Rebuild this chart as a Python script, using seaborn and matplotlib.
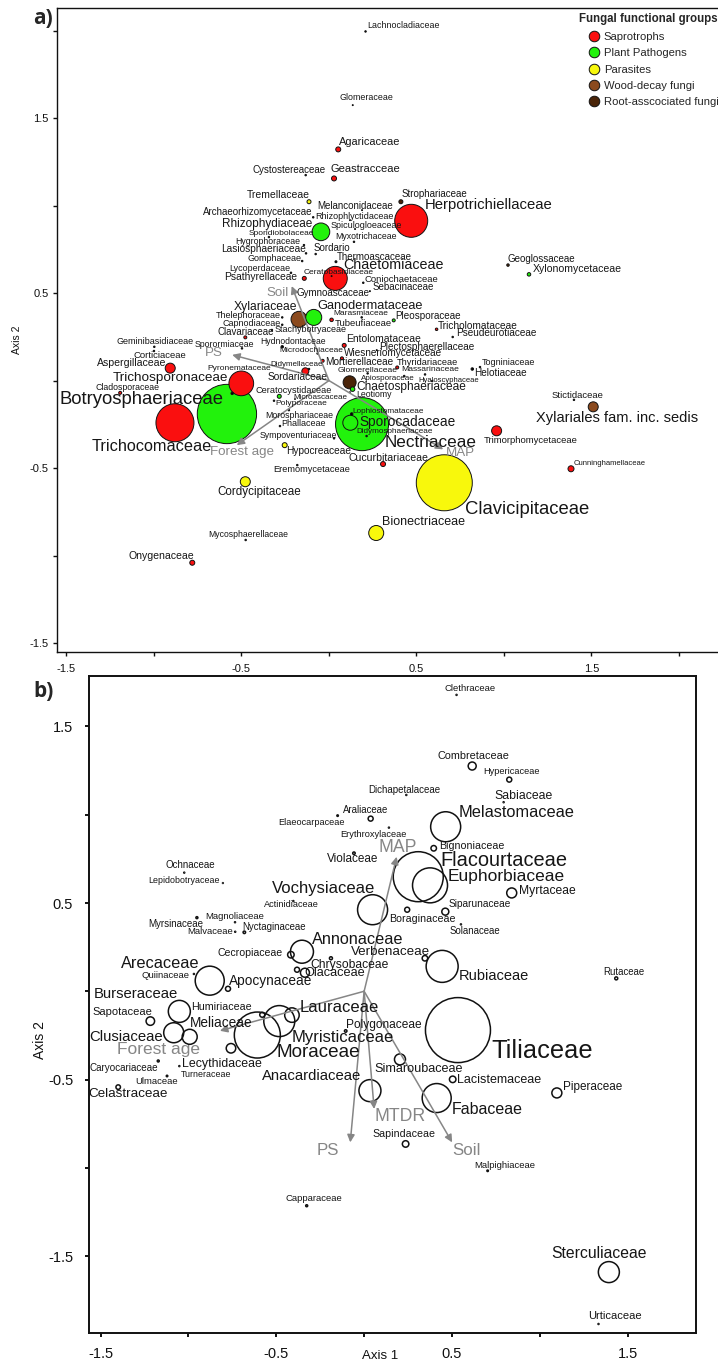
import pandas as pd
import matplotlib
matplotlib.use('Agg')
import matplotlib.pyplot as plt
from matplotlib.lines import Line2D
import seaborn as sns

# ---- panel a, fungi ----
a_names = ['Lachnocladiaceae', 'Glomeraceae', 'Agaricaceae', 'Cystostereaceae', 'Geastracceae', 'Tremellaceae',
           'Melanconidaceae', 'Archaeorhizomycetaceae', 'Rhizophlyctidaceae', 'Rhizophydiaceae', 'Spiculogloeaceae',
           'Sporidiobolaceae', 'Myxotrichaceae', 'Hygrophoraceae', 'Lasiosphaeriaceae', 'Sordario', 'Gomphaceae',
           'Thermoascaceae', 'Lycoperdaceae', 'Chaetomiaceae', 'Ceratobasidiaceae', 'Psathyrellaceae',
           'Coniochaetaceae', 'Sebacinaceae', 'Gymnoascaceae', 'Xylariaceae', 'Ganodermataceae', 'Thelephoraceae',
           'Capnodiaceae', 'Clavariaceae', 'Stachybotryaceae', 'Marasmiaceae', 'Tubeufiaceae', 'Pleosporaceae',
           'Tricholomataceae', 'Pseudeurotiaceae', 'Entolomataceae', 'Plectosphaerellaceae', 'Wiesneriomycetaceae',
           'Mortierellaceae', 'Thyridariaceae', 'Glomerellaceae', 'Massarinaceae', 'Togniniaceae', 'Helotiaceae',
           'Apiosporaceae', 'Hyaloscyphaceae', '', 'Chaetosphaeriaceae', 'Leotiomy', 'Nectriaceae', 'Sporocadaceae',
           'Lophiostomataceae', 'Didymosphaeriaceae', 'Cucurbitariaceae', 'Clavicipitaceae', 'Trimorphomycetaceae',
           'Stictidaceae', 'Xylariales fam. inc. sedis', 'Cunninghamellaceae', 'Strophariaceae', 'Herpotrichiellaceae',
           'Geoglossaceae', 'Xylonomycetaceae', 'Geminibasidiaceae', 'Sporormiaceae', 'Hydnodontaceae', 'Corticiaceae',
           'Microdochiaceae', 'Aspergillaceae', 'Trichosporonaceae', 'Cladosporaceae', 'Botryosphaeriaceae',
           'Trichocomaceae', 'Pyronemataceae', 'Didymellaceae', 'Sordariaceae', 'Ceratocystidaceae', 'Microascaceae',
           'Polyporaceae', 'Morosphariaceae', 'Phallaceae', 'Sympoventuriaceae', 'Hypocreaceae', 'Eremomycetaceae',
           'Cordycipitaceae', 'Mycosphaerellaceae', 'Onygenaceae', 'Bionectriaceae']
a_x = [0.209, 0.136, 0.053, -0.133, 0.029, -0.114, 0.189, -0.090, 0.12, -0.046, 0.149,
       -0.343, 0.143, -0.143, -0.131, -0.076, -0.153, 0.04, -0.217, 0.036, 0.015, -0.141,
       0.196, 0.234, -0.189, -0.171, -0.087, -0.267, -0.267, -0.478, -0.326, 0.187, 0.015, 0.370,
       0.615, 0.707, 0.087, 0.273, 0.074, -0.036, 0.390, 0.221, 0.549, 0.863, 0.819,
       0.430, 0.590, 0.118, 0.135, 0.12, 0.189, 0.122, 0.130, 0.215, 0.309, 0.659, 0.958,
       1.4, 1.510, 1.383, 0.411, 0.470, 1.023, 1.143, -0.998, -0.497, -0.267, -1.0,
       -0.065, -0.907, -0.501, -1.193, -0.583, -0.880, -0.553, -0.135, -0.114, -0.284, -0.194,
       -0.314, -0.229, -0.280, 0.029, -0.253, -0.181, -0.478, -0.476, -0.781, 0.270]
a_y = [1.995, 1.574, 1.321, 1.174, 1.155, 1.022, 0.974, 0.933, 0.917, 0.850, 0.866,
       0.820, 0.793, 0.774, 0.727, 0.723, 0.683, 0.679, 0.616, 0.584, 0.597, 0.584,
       0.559, 0.511, 0.506, 0.350, 0.361, 0.361, 0.319, 0.247, 0.289, 0.361, 0.347, 0.344,
       0.293, 0.249, 0.201, 0.174, 0.127, 0.113, 0.075, 0.041, 0.035, 0.077, 0.066,
       0.026, -0.003, -0.010, -0.049, -0.066, -0.249, -0.241, -0.191, -0.317, -0.477, -0.584, -0.287,
       -0.110, -0.150, -0.504, 1.022, 0.913, 0.660, 0.607, 0.193, 0.184, 0.193, 0.169,
       0.155, 0.071, -0.016, -0.070, -0.191, -0.241, -0.073, 0.053, 0.066, -0.090, -0.106,
       -0.115, -0.169, -0.260, -0.330, -0.369, -0.483, -0.578, -0.911, -1.041, -0.871]
# relative bubble diameter
a_abund = [1.5, 1, 5, 1.5, 5, 4, 1, 1.5, 1, 17.7, 1,
           1.5, 1.5, 1.5, 1.5, 1.5, 1.5, 2, 1.5, 24, 1, 4,
           1.5, 1, 0.8, 16, 16, 1.5, 1.5, 3, 1.5, 1.5, 3.5, 3,
           2.5, 1.5, 4, 1, 3, 3, 3, 1.5, 1.5, 1.5, 2.5,
           1.5, 1.5, 13, 4.5, 0.8, 53, 15, 2.5, 1.5, 5, 56, 10,
           1.5, 10, 6, 4, 33, 2.5, 3.5, 1.5, 1.5, 2.5, 1.5,
           1.5, 10, 24.7, 3, 59.3, 38, 2.5, 7, 1.5, 4, 0.8,
           1.5, 1.5, 1.5, 1.5, 5, 1.5, 10, 1.5, 5, 15]
a_group = ['O', 'O', 'S', 'O', 'S', 'Pa', 'O', 'O', 'O', 'P', 'O',
           'O', 'O', 'O', 'O', 'O', 'O', 'O', 'O', 'S', 'O', 'S',
           'O', 'O', 'O', 'W', 'P', 'O', 'O', 'S', 'O', 'O', 'S', 'P',
           'S', 'O', 'S', 'O', 'S', 'S', 'S', 'O', 'O', 'O', 'O',
           'O', 'O', 'R', 'P', 'O', 'P', 'P', 'O', 'O', 'S', 'Pa', 'S',
           'O', 'W', 'S', 'R', 'S', 'R', 'P', 'O', 'O', 'O', 'O',
           'O', 'S', 'S', 'S', 'P', 'S', 'O', 'S', 'O', 'P', 'O',
           'O', 'O', 'O', 'O', 'Pa', 'O', 'Pa', 'O', 'S', 'Pa']
a_dx = [1.4, -13.3, 0.7, -53, -4, -61.7, -45, -110.3, -34.3, -99.3, -24.3,
        -20, -19, -68.3, -84.7, -2, -54.6, 0.7, -61.7, 8, -27.7, -80.3,
        1.7, 2.3, 0.7, -65, 3.6, -66.3, -59.6, -27.6, 3, -28.4, 3.3, 2,
        1.6, 3, 2.4, 2.6, 2.3, 2.3, 0, -30.4, -23.3, 1.7, 1.7,
        -43.3, -13.6, 0, 4, 6, 22.3, 9, 1, -10, -34.3, 20.7, -12.4,
        -22.7, -57.6, 3, 0.7, 13.7, -0.3, 3.7, -38.3, -47, -21.6, -20.7,
        -38.7, -73.6, -128.6, -24.3, -167.7, -83, -24.6, -35.3, -41.3, -23.6, -1.7,
        1, -24, 1.7, -74.7, 1, -24, -28.3, -37, -64, 5.4]
a_dy = [5.6, 7.3, 7.6, 5, 9, 7, 4, 5, 4, 7.4, 4,
        3.7, 5, 3.3, 4, 5.7, 2.7, 5, 4.7, 13.3, 3.3, 1.6,
        3, 3.7, -1.3, 12.6, 11.3, 2, 1.7, 5.6, 0, 3.6, -4, 4,
        3.3, 3.7, 6, 3.3, 5, -1.6, 4.6, 3.3, 5, 4.3, -4,
        -2.7, 0.3, 0, 1.7, -2, -18.7, 1, 2, 5, 5.7, -26.3, -9.6,
        4.4, -11.6, 5, 7.4, 15.7, 5.7, 5, 5.7, 4.3, 5, -4.7,
        2.6, 5.3, 5, 5.4, 14, -23.3, 25, 6.3, -7.7, 6.3, 1.7,
        -3.3, -5, 2.7, 3.3, -6, -4.3, -10, 5.3, 6.7, 10.7]
a_fs = [6.4, 6.4, 7.9, 7, 8, 7.5, 7, 7, 6.5, 8.5, 6.5,
        6, 6.3, 6.3, 7.3, 7, 6.5, 7, 6.4, 10.3, 6, 7.4,
        6.8, 7, 7, 8.7, 9.2, 6.5, 6.5, 7, 6.5, 6, 6.8, 7.1,
        7.3, 7.2, 7.5, 7.2, 7.2, 7.2, 6.7, 6.1, 6.1, 6.5, 7.2,
        5.8, 5.5, 6, 8.6, 6.3, 12.3, 9.8, 5.9, 5.9, 7.6, 13.3, 6.8,
        6.8, 10.5, 5.5, 7, 10.7, 7, 7.6, 6.5, 6.3, 6.2, 6.8,
        6, 7.6, 9.7, 6.3, 13.3, 11.7, 6, 5.8, 7.3, 6.6, 5.8,
        6, 6.3, 6.5, 6.3, 7.3, 6.7, 8.4, 6.2, 7.6, 9]

a_arrows = ['PS', 'Forest age', 'Soil', 'MAP']
a_arrow_x = [-0.553, -0.527, -0.213, 0.653]
a_arrow_y = [0.147, -0.369, 0.540, -0.393]
a_arrow_dx = [-27.3, -26.7, -25, 2.4]
a_arrow_dy = [2, -6.7, -6.7, -4]

group_labels = ['Saprotrophs', 'Plant Pathogens', 'Parasites', 'Wood-decay fungi', 'Root-asscociated fungi']

# ---- panel b, trees ----
b_names = ['Clethraceae', 'Combretaceae', 'Hypericaceae', 'Sabiaceae', 'Dichapetalaceae', 'Araliaceae', 'Elaeocarpaceae',
           'Erythroxylaceae', 'Violaceae', 'Melastomaceae', 'Bignoniaceae', 'Flacourtaceae', 'Euphorbiaceae',
           'Myrtaceae', 'Siparunaceae', 'Vochysiaceae', 'Boraginaceae', 'Solanaceae', 'Actinidiaceae', 'Ochnaceae',
           'Lepidobotryaceae', 'Magnoliaceae', 'Myrsinaceae', 'Malvaceae', 'Nyctaginaceae', 'Cecropiaceae',
           'Annonaceae', 'Verbenaceae', 'Chrysobaceae', 'Olacaceae', '', 'Rubiaceae', 'Rutaceae', 'Arecaceae',
           'Quiinaceae', 'Apocynaceae', 'Burseraceae', 'Humiriaceae', 'Sapotaceae', 'Lauraceae', 'Myristicaceae',
           'Moraceae', 'Meliaceae', 'Clusiaceae', 'Lecythidaceae', 'Polygonaceae', 'Simaroubaceae', 'Tiliaceae',
           'Anacardiaceae', 'Lacistemaceae', 'Fabaceae', 'Piperaceae', 'Sapindaceae', 'Malpighiaceae', 'Capparaceae',
           'Sterculiaceae', 'Urticaceae', 'Caryocariaceae', 'Turneraceae', 'Ulmaceae', 'Celastraceae']
b_x = [0.526, 0.615, 0.826, 0.794, 0.240, 0.037, -0.151,
       0.141, -0.058, 0.464, 0.396, 0.308, 0.375,
       0.840, 0.462, 0.048, 0.245, 0.551, -0.403, -1.024,
       -0.804, -0.735, -0.952, -0.734, -0.682, -0.417,
       -0.354, 0.346, -0.189, -0.337, -0.382, 0.444, 1.435, -0.879,
       -0.969, -0.775, -1.052, -0.580, -1.217, -0.411, -0.483,
       -0.608, -0.993, -1.084, -0.758, -0.105, 0.204, 0.534,
       0.033, 0.504, 0.413, 1.097, 0.236, 0.703, -0.327,
       1.393, 1.334, -1.172, -1.052, -1.122, -1.400]
b_y = [1.679, 1.276, 1.199, 1.071, 1.112, 0.978, 0.995,
       0.927, 0.782, 0.932, 0.810, 0.649, 0.600,
       0.557, 0.451, 0.462, 0.462, 0.379, 0.511, 0.672,
       0.613, 0.391, 0.417, 0.337, 0.334, 0.207,
       0.224, 0.187, 0.187, 0.105, 0.122, 0.141, 0.073, 0.060,
       0.098, 0.014, -0.114, -0.133, -0.169, -0.135, -0.169,
       -0.248, -0.258, -0.235, -0.323, -0.225, -0.386, -0.220,
       -0.563, -0.499, -0.605, -0.576, -0.865, -1.017, -1.215,
       -1.591, -1.885, -0.395, -0.424, -0.480, -0.543]
b_abund = [1, 8, 5, 1, 1, 5, 1.5,
           1, 2.5, 30, 5.5, 50, 35,
           10, 7, 30, 5, 1, 1, 1,
           0.8, 1, 2, 1, 2.5, 6.5,
           23, 5.5, 3, 9, 5, 32, 3, 29,
           1, 5, 22, 5, 8.5, 14.5, 31,
           46, 15, 20, 9.5, 2.5, 11, 65,
           22, 6.5, 29, 10, 6.5, 1.5, 2,
           21, 1, 2, 1, 1.5, 4.5]
b_dx = [-11.7, -34.6, -25.6, -9.4, -37.6, -27.4, -59.4,
        -49, -26.7, 12.6, 5.6, 22.4, 17.7,
        7.6, 3.4, -101, -18, -11.7, -29.3, -18.3,
        -74.3, -29.7, -49, -47.6, -1.6, -73.7,
        9.7, -74, -21, -0.7, 0, 16.7, -13, -88.7,
        -52, 1, -86, -71.6, -58, 7.3, 12.4,
        19.4, 0.3, -84.4, -48.7, 0.3, -25.7, 33.7,
        -107.7, 4, 15, 5.7, -33.4, -13.4, -21,
        -58, -10, -69, 1.7, -31.3, -30]
b_dy = [6.7, 10, 7.7, 6.3, 5, 8.7, -7,
        -7, -6, 14, 2, 16.7, 8.6,
        2, 7.4, 21.4, -9.3, -6.4, -3.3, 8,
        2.3, 6, -6.3, 0, 5.6, 2,
        12.7, 6.6, -6.7, 0, 0, -10, 6.6, 17.4,
        -2, 8, 17, 8, 9.3, 7.7, -16.3,
        -17.7, 13.4, -4, -15.4, 6, -10, -20.7,
        14.7, -0.7, -11.3, 6.3, 9.7, 5, 7.7,
        19, 8.3, -7.3, -8.7, -5.7, -7]
b_fs = [6.8, 7.8, 6.7, 8.8, 7, 6.9, 6.6,
        6.7, 8.5, 11.8, 7.7, 14.4, 12.5,
        8.7, 7.3, 12, 7.7, 6.9, 6.6, 7,
        6.4, 6.8, 7, 6.8, 6.9, 7.6,
        11.7, 9.6, 8.7, 9.2, 6, 10.5, 6.9, 11.8,
        6.8, 9.8, 10.7, 7.7, 8, 12, 12,
        13.6, 9.8, 10.7, 8.9, 8.6, 9.1, 18.3,
        10.7, 9, 11.5, 8.5, 7.7, 6.8, 6.8,
        11.3, 8, 7.1, 6.4, 6.8, 9.7]

b_arrows = ['MAP', 'Forest age', 'PS', 'MTDR', 'Soil']
b_arrow_x = [0.185, -0.821, -0.079, 0.057, 0.501]
b_arrow_y = [0.762, -0.224, -0.856, -0.667, -0.856]
b_arrow_dx = [-18.4, -102.7, -33.6, 0.7, 0]
b_arrow_dy = [9, -18.6, -7.7, -7.7, -7.7]
b_arrow_fs = [12.7, 12.5, 12.2, 12.7, 12.2]

tick_pos_a = [-1.5, -1, -0.5, 0, 0.5, 1, 1.5, 2]
tick_pos_b = [-1.5, -1, -0.5, 0, 0.5, 1, 1.5]
tick_text_a = ['-1.5', '', '-0.5', '', '0.5', '', '1.5', '']
tick_text_b = ['-1.5', '', '-0.5', '', '0.5', '', '1.5']

COLORS = {'S': '#fa0f0f', 'P': '#22f20c', 'Pa': '#f8f80c', 'W': '#8b4a1e', 'R': '#4a2408', 'O': '#000000'}
GREY = '#868686'
PX = 0.72  # points per pixel at dpi 100


def bubble_frame(x, y, abund, group=None):
    """Sorted big to small so that the small bubbles stay on top"""
    df = pd.DataFrame({'x': x, 'y': y, 'area': [v ** 2 for v in abund]})
    if group is not None:
        df['group'] = group
    return df.sort_values('area', ascending=False)


def add_labels(ax, names, x, y, dx, dy, fs):
    for name, xv, yv, ox, oy, size in zip(names, x, y, dx, dy, fs):
        if name:
            ax.annotate(name, (xv, yv), xytext=(ox, oy), textcoords='offset pixels', ha='left', va='center',
                        fontsize=size, color='#161616', zorder=6)


def add_arrows(ax, names, x, y, dx, dy, fs):
    for name, xv, yv, ox, oy, size in zip(names, x, y, dx, dy, fs):
        ax.annotate('', xy=(xv, yv), xytext=(0, 0), zorder=5,
                    arrowprops=dict(arrowstyle='-|>', color=GREY, lw=1.1, mutation_scale=11, shrinkA=0, shrinkB=0))
        ax.annotate(name, (xv, yv), xytext=(ox, oy), textcoords='offset pixels', ha='left', va='center',
                    fontsize=size, color=GREY, zorder=6)


def style_axis(ax, ticks, texts, width, tick_fs, xpad, ypad):
    ax.set_xticks(ticks)
    ax.set_yticks(ticks)
    ax.set_xticklabels(texts)
    ax.set_yticklabels(texts)
    ax.tick_params(length=3, width=width, labelsize=tick_fs, color='#111111', labelcolor='#111111')
    ax.tick_params(axis='x', pad=xpad)
    ax.tick_params(axis='y', pad=ypad)
    for side in ax.spines:
        ax.spines[side].set_linewidth(width)
        ax.spines[side].set_color('#111111')
    ax.set_xlabel('')
    ax.set_ylabel('')


def main():
    sns.set_theme(style='ticks')
    plt.rcParams['font.family'] = ['Liberation Sans', 'DejaVu Sans']

    fig = plt.figure(figsize=(7.18, 13.62), dpi=100)
    W, H = 718.0, 1362.0

    # panel a
    ax_a = fig.add_axes([57 / W, 1 - 652 / H, (718 - 57) / W, 644 / H])
    df_a = bubble_frame(a_x, a_y, a_abund, a_group)
    max_a = df_a['area'].max()
    sns.scatterplot(data=df_a, x='x', y='y', hue='group', palette=COLORS, size='area',
                    sizes=(0, max_a * PX ** 2), size_norm=(0, max_a), edgecolor='#111111', linewidth=0.7,
                    legend=False, ax=ax_a, zorder=3, clip_on=False)
    ax_a.set_xlim(-1.554, 2.223)
    ax_a.set_ylim(-1.551, 2.129)
    style_axis(ax_a, tick_pos_a, tick_text_a, 1.0, 8, 6, 3)
    ax_a.spines['right'].set_visible(False)
    add_labels(ax_a, a_names, a_x, a_y, a_dx, a_dy, a_fs)
    add_arrows(ax_a, a_arrows, a_arrow_x, a_arrow_y, a_arrow_dx, a_arrow_dy, [9.6] * 4)

    handles = [Line2D([], [], marker='o', ls='', ms=7.6, mfc=COLORS[g], mec='#111111', mew=0.7)
               for g in ['S', 'P', 'Pa', 'W', 'R']]
    leg = ax_a.legend(handles, group_labels, loc='upper left', bbox_to_anchor=(587.6 / W, 1 - 32 / H),
                      bbox_transform=fig.transFigure, frameon=False, fontsize=8.1, borderpad=0, borderaxespad=0,
                      handlelength=1.2, handletextpad=0.25, labelspacing=0.56)
    leg.set_zorder(7)
    fig.text(579 / W, 1 - 19 / H, 'Fungal functional groups', fontsize=8.3, fontweight='bold', va='center')

    # panel b
    ax_b = fig.add_axes([88.5 / W, 1 - 1333 / H, (696 - 88.5) / W, (1333 - 676) / H])
    df_b = bubble_frame(b_x, b_y, b_abund)
    max_b = df_b['area'].max()
    sns.scatterplot(data=df_b, x='x', y='y', size='area', sizes=(0, max_b * PX ** 2), size_norm=(0, max_b),
                    color='white', edgecolor='#111111', linewidth=1.1, legend=False, ax=ax_b, zorder=3)
    ax_b.collections[-1].set_facecolor('none')
    ax_b.set_xlim(-1.569, 1.889)
    ax_b.set_ylim(-1.936, 1.786)
    style_axis(ax_b, tick_pos_b, tick_text_b, 1.4, 10.5, 7, 8)
    add_labels(ax_b, b_names, b_x, b_y, b_dx, b_dy, b_fs)
    add_arrows(ax_b, b_arrows, b_arrow_x, b_arrow_y, b_arrow_dx, b_arrow_dy, b_arrow_fs)

    # outer texts
    fig.text(17 / W, 1 - 340 / H, 'Axis 2', fontsize=7.5, rotation=90, ha='center', va='center', color='#111111')
    fig.text(40 / W, 1 - 1040 / H, 'Axis 2', fontsize=10, rotation=90, ha='center', va='center', color='#111111')
    fig.text(380 / W, 1 - 1356 / H, 'Axis 1', fontsize=9.5, ha='center', va='center', color='#111111')
    fig.text(33 / W, 1 - 18 / H, 'a)', fontsize=15, fontweight='bold', ha='left', va='center', family='Open Sans')
    fig.text(33 / W, 1 - 692 / H, 'b)', fontsize=15, fontweight='bold', ha='left', va='center', family='Open Sans')

    fig.savefig('out.png', dpi=100)
    plt.close(fig)


if __name__ == "__main__":
    main()
